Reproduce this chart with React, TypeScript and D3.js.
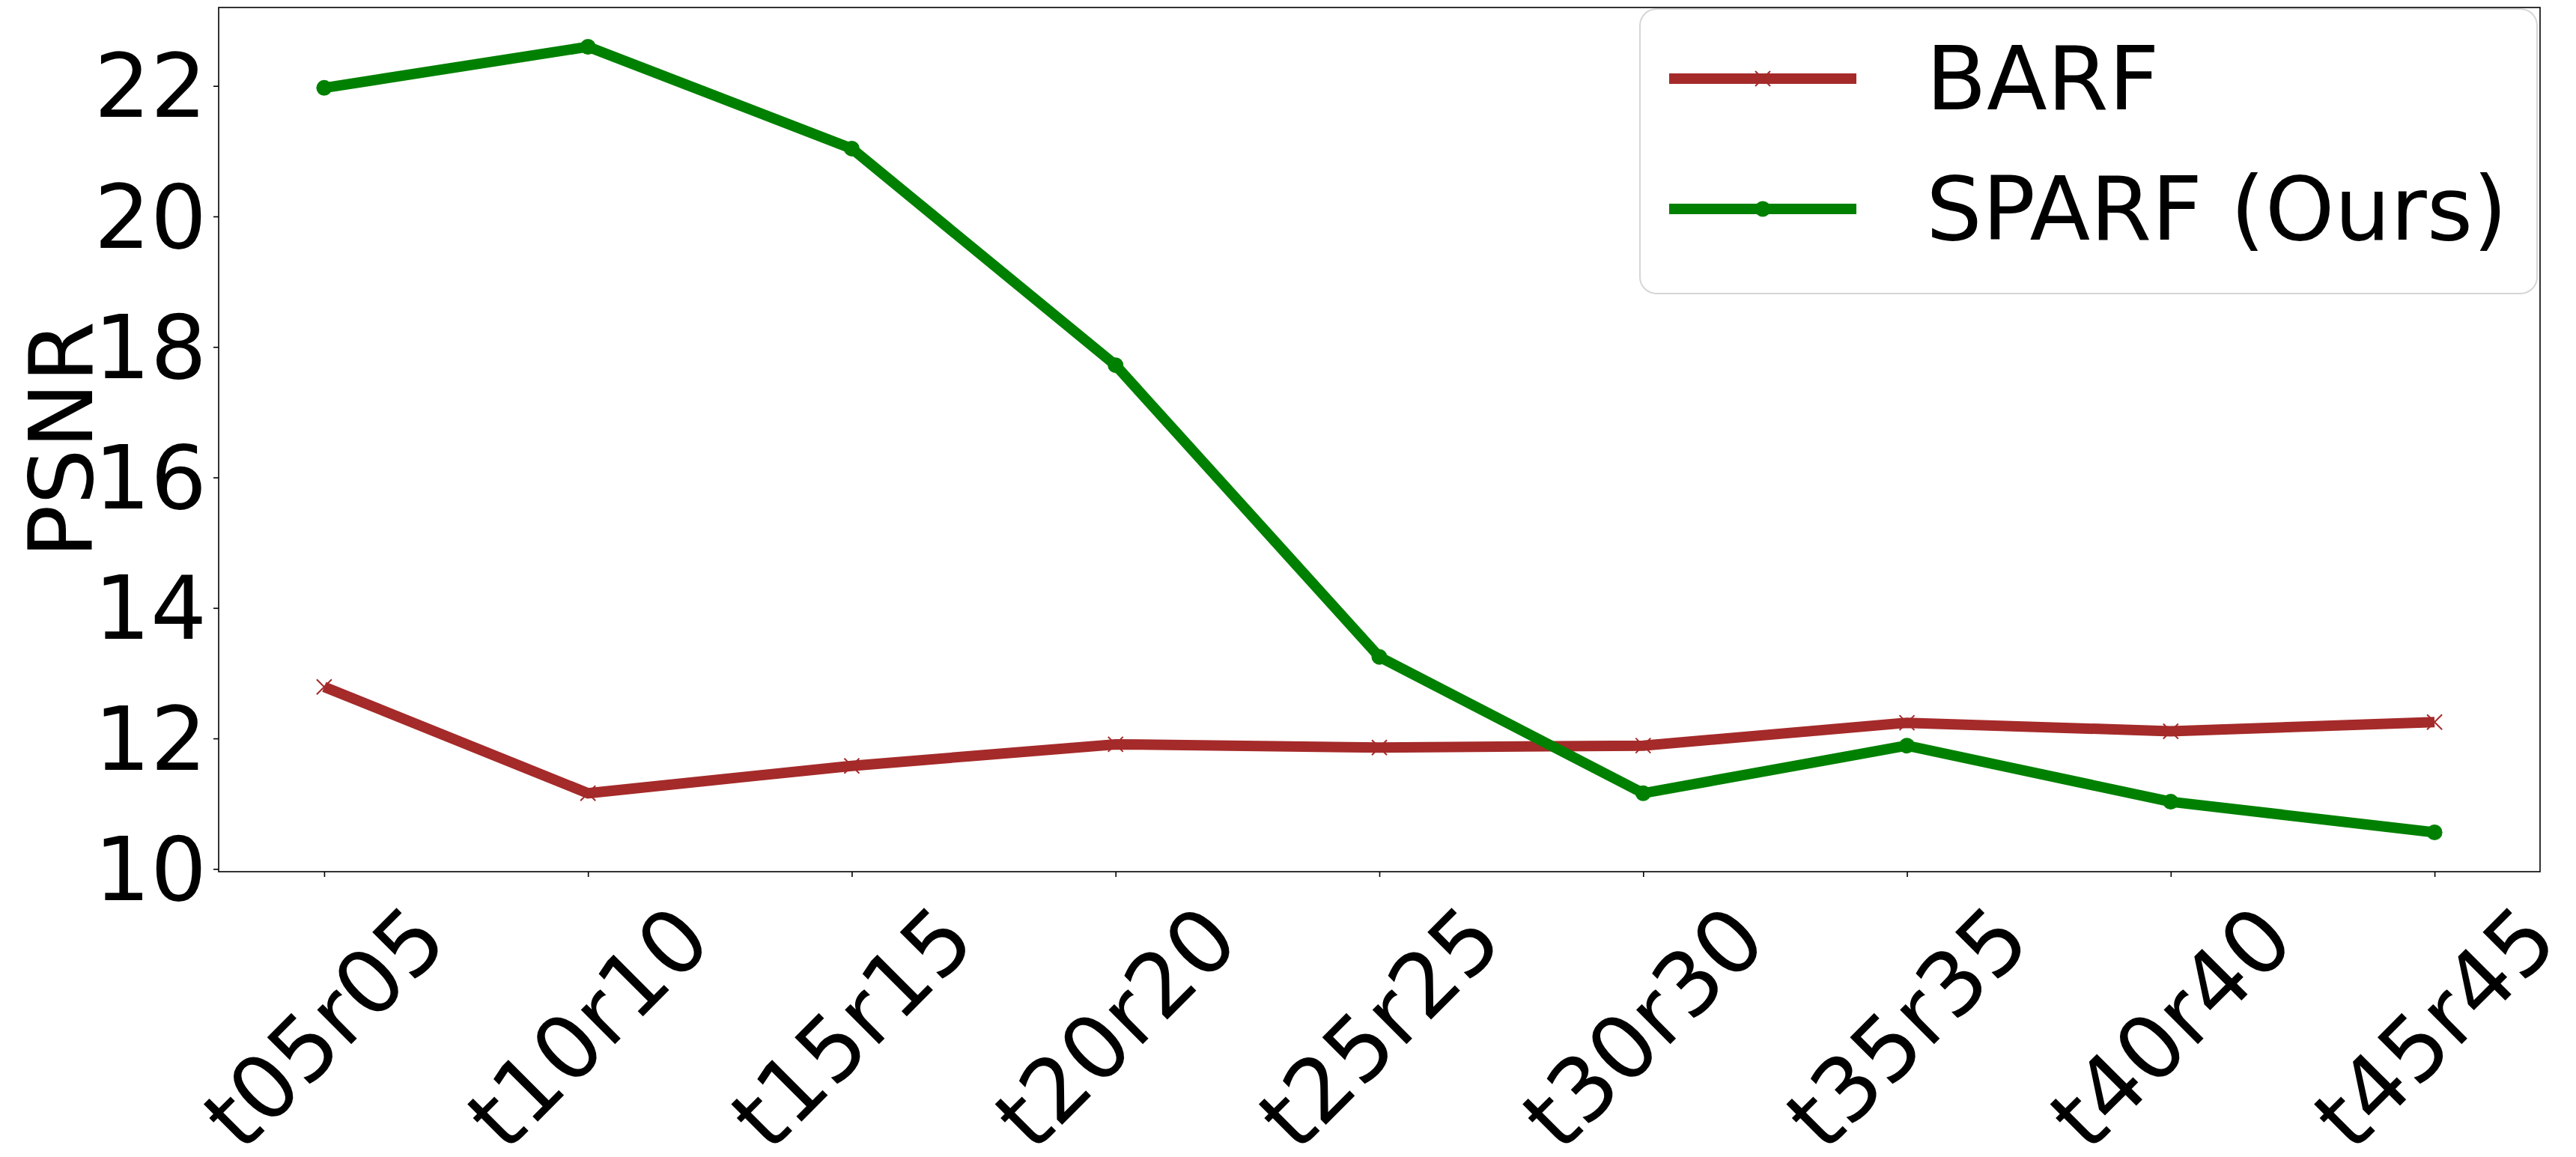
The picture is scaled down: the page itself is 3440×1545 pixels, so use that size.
import React, { useEffect, useRef } from "react";
import * as d3 from "d3";

const categories = [
  "t05r05",
  "t10r10",
  "t15r15",
  "t20r20",
  "t25r25",
  "t30r30",
  "t35r35",
  "t40r40",
  "t45r45",
];
const barfValues = [12.79, 11.16, 11.58, 11.91, 11.86, 11.89, 12.24, 12.11, 12.25];
const sparfValues = [21.97, 22.6, 21.04, 17.72, 13.25, 11.16, 11.89, 11.03, 10.56];
const yTicks = [10, 12, 14, 16, 18, 20, 22];
const seriesNames = ["BARF", "SPARF (Ours)"];

const App = () => {
  const ref = useRef<SVGSVGElement>(null);

  useEffect(() => {
    const width = 3440;
    const height = 1545;
    const margin = { top: 10, right: 48, bottom: 381, left: 292 };
    const fontSize = 118;
    const font = "DejaVu Sans, sans-serif";
    const red = "#a52a2a";
    const green = "#008000";

    const svg = d3.select(ref.current);
    svg.selectAll("*").remove();
    svg.attr("width", width).attr("height", height);

    const x = d3
      .scalePoint()
      .domain(categories)
      .range([margin.left, width - margin.right])
      .padding(0.4);

    // matplotlib-style 5% margins around the data range
    const all = [...barfValues, ...sparfValues];
    const lo = d3.min(all)!;
    const hi = d3.max(all)!;
    const pad = (hi - lo) * 0.05;
    const y = d3
      .scaleLinear()
      .domain([lo - pad, hi + pad])
      .range([height - margin.bottom, margin.top]);

    svg.append("rect").attr("width", width).attr("height", height).attr("fill", "#fff");

    // y axis
    const yAxis = svg
      .append("g")
      .attr("transform", `translate(${margin.left},0)`)
      .call(d3.axisLeft(y).tickValues(yTicks).tickSize(7).tickPadding(9));
    yAxis.select(".domain").remove();
    yAxis.selectAll(".tick line").attr("stroke", "#000").attr("stroke-width", 1.6);
    yAxis
      .selectAll(".tick text")
      .attr("font-size", fontSize)
      .attr("font-family", font)
      .attr("fill", "#000")
      .attr("dy", null)
      .attr("dominant-baseline", "central");

    // x axis
    const xAxis = svg
      .append("g")
      .attr("transform", `translate(0,${height - margin.bottom})`)
      .call(d3.axisBottom(x).tickSize(7));
    xAxis.select(".domain").remove();
    xAxis.selectAll(".tick line").attr("stroke", "#000").attr("stroke-width", 1.6);
    xAxis
      .selectAll(".tick text")
      .attr("font-size", fontSize)
      .attr("font-family", font)
      .attr("fill", "#000")
      .attr("y", 0)
      .attr("dy", null)
      .attr("text-anchor", "middle")
      .attr("dominant-baseline", "central")
      .attr("transform", "translate(0,208) rotate(-45)");

    // y label
    svg
      .append("text")
      .text("PSNR")
      .attr("font-size", fontSize)
      .attr("font-family", font)
      .attr("text-anchor", "middle")
      .attr("dominant-baseline", "central")
      .attr("transform", `translate(82,${(margin.top + height - margin.bottom) / 2}) rotate(-90)`);

    const line = d3
      .line<number>()
      .x((_, i) => x(categories[i])!)
      .y((d) => y(d));

    // BARF
    svg
      .append("path")
      .datum(barfValues)
      .attr("d", line)
      .attr("fill", "none")
      .attr("stroke", red)
      .attr("stroke-width", 14);
    const xm = 10;
    svg
      .append("g")
      .selectAll("path")
      .data(barfValues)
      .join("path")
      .attr("transform", (d, i) => `translate(${x(categories[i])},${y(d)})`)
      .attr("d", `M${-xm},${-xm}L${xm},${xm}M${-xm},${xm}L${xm},${-xm}`)
      .attr("stroke", red)
      .attr("stroke-width", 2);

    // SPARF
    svg
      .append("path")
      .datum(sparfValues)
      .attr("d", line)
      .attr("fill", "none")
      .attr("stroke", green)
      .attr("stroke-width", 14);
    svg
      .append("g")
      .selectAll("circle")
      .data(sparfValues)
      .join("circle")
      .attr("cx", (d, i) => x(categories[i])!)
      .attr("cy", (d) => y(d))
      .attr("r", 10.5)
      .attr("fill", green);

    // axes frame
    svg
      .append("rect")
      .attr("x", margin.left)
      .attr("y", margin.top)
      .attr("width", width - margin.left - margin.right)
      .attr("height", height - margin.top - margin.bottom)
      .attr("fill", "none")
      .attr("stroke", "#000")
      .attr("stroke-width", 1.6);

    // legend
    const legend = svg.append("g").attr("transform", "translate(2190,12)");
    legend
      .append("rect")
      .attr("width", 1198)
      .attr("height", 380)
      .attr("rx", 22)
      .attr("fill", "#fff")
      .attr("fill-opacity", 0.8)
      .attr("stroke", "#d6d6d6")
      .attr("stroke-width", 2);
    const colors = [red, green];
    seriesNames.forEach((s, i) => {
      const g = legend.append("g").attr("transform", `translate(0,${93 + i * 174})`);
      g.append("line")
        .attr("x1", 39)
        .attr("x2", 289)
        .attr("stroke", colors[i])
        .attr("stroke-width", 14);
      if (i === 0) {
        g.append("path")
          .attr("transform", "translate(164,0)")
          .attr("d", `M${-xm},${-xm}L${xm},${xm}M${-xm},${xm}L${xm},${-xm}`)
          .attr("stroke", red)
          .attr("stroke-width", 2);
      } else {
        g.append("circle").attr("cx", 164).attr("r", 10.5).attr("fill", green);
      }
      g.append("text")
        .text(s)
        .attr("x", 382)
        .attr("font-size", fontSize)
        .attr("font-family", font)
        .attr("dominant-baseline", "central");
    });
  }, []);

  return (
    <svg
      ref={ref}
      style={{ position: "absolute", left: 0, top: 0, display: "block" }}
    ></svg>
  );
};

export default App;
